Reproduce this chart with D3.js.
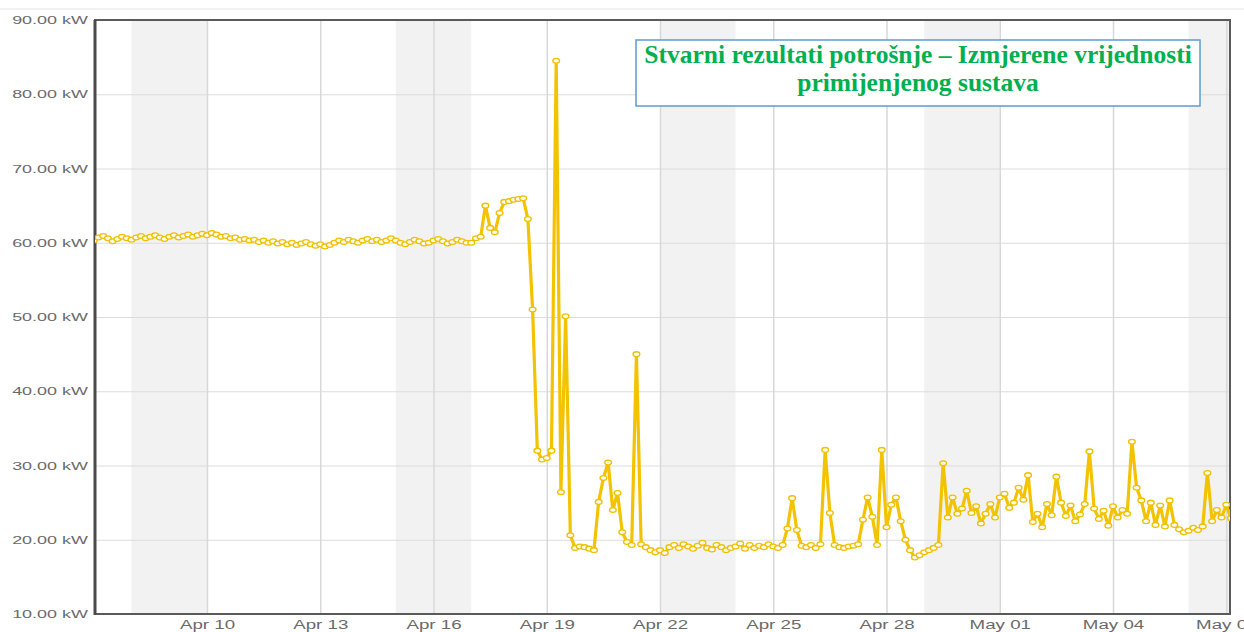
<!DOCTYPE html>
<html>
<head>
<meta charset="utf-8">
<script src="https://cdn.jsdelivr.net/npm/d3@7"></script>
<style>
body { margin: 0; background: #fff; }
svg { display: block; }
</style>
</head>
<body>
<svg></svg>
<script>
const width = 1244;
const height = 632;
const plotLeft = 95, plotRight = 1230, plotTop = 20, plotBottom = 614;
const stretch = 1.56; // the source screenshot is stretched sideways

// readings every 3 hours, starting Apr 7 00:00
const start = new Date(2017, 3, 7, 0);
const stepHours = 3;
const kw = [
  60.3, 60.7, 60.9, 60.6, 60.2, 60.5, 60.8, 60.6, // Apr 7
  60.4, 60.7, 60.9, 60.6, 60.8, 61.0, 60.7, 60.5,
  60.8, 61.0, 60.7, 60.9, 61.1, 60.8, 61.0, 61.2,
  61.0, 61.3, 61.1, 60.8, 60.9, 60.6, 60.7, 60.4, // Apr 10
  60.5, 60.3, 60.4, 60.1, 60.3, 60.0, 60.2, 59.9,
  60.1, 59.8, 60.0, 59.7, 59.9, 60.1, 59.8, 59.6,
  59.8, 59.5, 59.7, 60.0, 60.3, 60.1, 60.4, 60.2, // Apr 13
  60.0, 60.3, 60.5, 60.2, 60.4, 60.1, 60.3, 60.6,
  60.3, 60.0, 59.8, 60.1, 60.4, 60.2, 59.9, 60.0,
  60.3, 60.5, 60.2, 59.9, 60.1, 60.4, 60.2, 60.0, // Apr 16
  60.0, 60.6, 60.8, 65.0, 62.0, 61.4, 64.0, 65.5,
  65.6, 65.8, 65.9, 66.0, 63.2, 51.0, 32.0, 30.8,
  31.0, 32.0, 84.5, 26.4, 50.1, 20.6, 18.9, 19.1, // Apr 19
  19.0, 18.8, 18.6, 25.1, 28.3, 30.4, 24.0, 26.3,
  21.0, 19.7, 19.3, 45.0, 19.4, 19.0, 18.6, 18.3,
  18.6, 18.2, 19.0, 19.3, 18.9, 19.4, 19.1, 18.8, // Apr 22
  19.2, 19.6, 18.9, 18.7, 19.3, 19.0, 18.6, 18.9,
  19.1, 19.5, 18.8, 19.3, 18.9, 19.2, 19.0, 19.4,
  19.1, 18.9, 19.3, 21.5, 25.6, 21.3, 19.2, 19.0, // Apr 25
  19.3, 18.9, 19.4, 32.1, 23.6, 19.3, 19.0, 18.9,
  19.1, 19.2, 19.4, 22.7, 25.7, 23.1, 19.3, 32.1,
  21.7, 24.7, 25.7, 22.5, 20.0, 18.6, 17.6, 17.9, // Apr 28
  18.3, 18.6, 18.9, 19.3, 30.3, 23.0, 25.7, 23.5,
  24.2, 26.6, 23.6, 24.5, 22.2, 23.5, 24.8, 23.0,
  25.7, 26.2, 24.3, 25.0, 27.0, 25.4, 28.7, 22.4, // May 1
  23.5, 21.7, 24.8, 23.3, 28.5, 25.0, 23.2, 24.6,
  22.5, 23.4, 24.8, 31.9, 24.2, 22.8, 23.9, 21.9,
  24.5, 23.0, 24.0, 23.5, 33.2, 27.0, 25.3, 22.5, // May 4
  25.0, 22.0, 24.6, 21.8, 25.3, 22.0, 21.4, 21.0,
  21.2, 21.6, 21.3, 21.8, 29.0, 22.5, 24.0, 23.0,
  24.7, 22.9                                        // May 7
];

const weekendStarts = ["2017-04-08", "2017-04-15", "2017-04-22", "2017-04-29", "2017-05-06"];
const xTicks = ["2017-04-10", "2017-04-13", "2017-04-16", "2017-04-19", "2017-04-22",
                "2017-04-25", "2017-04-28", "2017-05-01", "2017-05-04", "2017-05-07"];
const yTicks = [10, 20, 30, 40, 50, 60, 70, 80, 90];
const titleLines = ["Stvarni rezultati potrošnje – Izmjerene vrijednosti", "primijenjenog sustava"];

const parseDay = d3.timeParse("%Y-%m-%d");
const data = kw.map((v, i) => ({t: d3.timeHour.offset(start, i * stepHours), v: v}));

const x = d3.scaleTime()
  .domain([new Date(2017, 3, 7, 0, 48), new Date(2017, 4, 7, 2, 22)])
  .range([plotLeft, plotRight]);
const y = d3.scaleLinear().domain([10, 90]).range([plotBottom, plotTop]);

const svg = d3.select("svg").attr("width", width).attr("height", height);

svg.append("defs").append("clipPath").attr("id", "plot")
  .append("rect").attr("x", plotLeft).attr("y", plotTop - 6)
  .attr("width", plotRight - plotLeft).attr("height", plotBottom - plotTop + 6);

// faint rule above the chart
svg.append("line").attr("x1", 0).attr("x2", width).attr("y1", 9).attr("y2", 9)
  .attr("stroke", "#ececec").attr("stroke-width", 1.5);

// weekend bands
svg.append("g").attr("clip-path", "url(#plot)")
  .selectAll("rect").data(weekendStarts).join("rect")
  .attr("x", d => x(parseDay(d)))
  .attr("width", d => x(d3.timeDay.offset(parseDay(d), 2)) - x(parseDay(d)))
  .attr("y", plotTop).attr("height", plotBottom - plotTop)
  .attr("fill", "#f2f2f2");

// y axis + horizontal grid
const yAxis = svg.append("g").attr("transform", `translate(${plotLeft},0)`)
  .call(d3.axisLeft(y).tickValues(yTicks).tickSize(-(plotRight - plotLeft)).tickPadding(0)
    .tickFormat(d => d.toFixed(2) + " kW"));
yAxis.select(".domain").remove();
yAxis.selectAll(".tick line").attr("stroke", "#dcdcdc").attr("stroke-width", 1);
yAxis.selectAll(".tick text")
  .attr("x", -4.6).attr("transform", `scale(${stretch},1)`)
  .attr("fill", "#6a6a6a")
  .style("font-family", "'Liberation Sans', Arial, sans-serif").style("font-size", "11.5px");

// x axis + vertical grid
const xAxis = svg.append("g").attr("transform", `translate(0,${plotBottom})`)
  .call(d3.axisBottom(x).tickValues(xTicks.map(parseDay)).tickSize(-(plotBottom - plotTop)).tickPadding(6)
    .tickFormat(d3.timeFormat("%b %d")));
xAxis.select(".domain").remove();
xAxis.selectAll(".tick line").attr("stroke", "#d8d8d8").attr("stroke-width", 1.5);
xAxis.selectAll(".tick text")
  .attr("transform", `scale(${stretch},1)`)
  .attr("fill", "#6a6a6a")
  .style("font-family", "'Liberation Sans', Arial, sans-serif").style("font-size", "12px");

// frame
svg.append("rect").attr("x", plotLeft).attr("y", plotTop)
  .attr("width", plotRight - plotLeft).attr("height", plotBottom - plotTop)
  .attr("fill", "none").attr("stroke", "#5a5a5a").attr("stroke-width", 2);
svg.append("line").attr("x1", plotLeft).attr("x2", plotLeft).attr("y1", plotTop).attr("y2", plotBottom + 1)
  .attr("stroke", "#4a4a4a").attr("stroke-width", 3);

// series
const plot = svg.append("g").attr("clip-path", "url(#plot)");
plot.append("path").datum(data)
  .attr("fill", "none").attr("stroke", "#f3c300").attr("stroke-width", 3.2)
  .attr("stroke-linejoin", "round")
  .attr("d", d3.line().x(d => x(d.t)).y(d => y(d.v)));
plot.selectAll("ellipse").data(data).join("ellipse")
  .attr("cx", d => x(d.t)).attr("cy", d => y(d.v))
  .attr("rx", 3.4).attr("ry", 2.4)
  .attr("fill", "#fffdf2").attr("stroke", "#f0c000").attr("stroke-width", 1.3);

// title box
svg.append("rect").attr("x", 636).attr("y", 40).attr("width", 564).attr("height", 66)
  .attr("fill", "#fff").attr("stroke", "#5b9bd5").attr("stroke-width", 1.5);
svg.append("g").selectAll("text").data(titleLines).join("text")
  .attr("x", 918).attr("y", (d, i) => 63 + i * 28)
  .attr("text-anchor", "middle")
  .attr("fill", "#00b050")
  .style("font-family", "'Liberation Serif', 'DejaVu Serif', serif")
  .style("font-weight", "bold").style("font-size", "25.5px")
  .text(d => d);
</script>
</body>
</html>
